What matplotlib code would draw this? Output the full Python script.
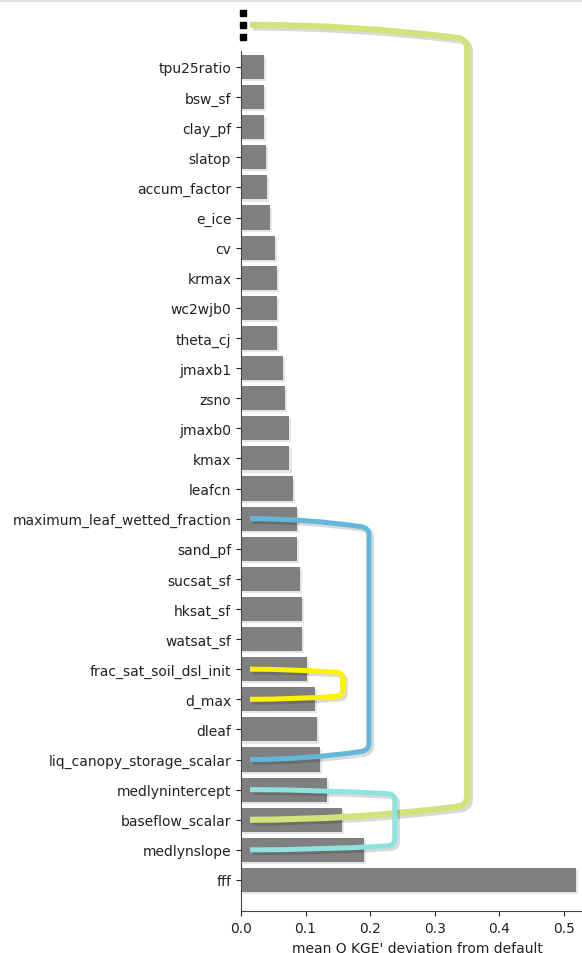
import matplotlib
matplotlib.use("Agg")
import matplotlib.pyplot as plt
import matplotlib.patheffects as pe
from matplotlib.lines import Line2D
from matplotlib.patches import PathPatch
from matplotlib.path import Path
from matplotlib.transforms import IdentityTransform
import numpy as np

# parameters, ranked by mean deviation (smallest first, top of the chart)
params = ["tpu25ratio", "bsw_sf", "clay_pf", "slatop", "accum_factor", "e_ice",
          "cv", "krmax", "wc2wjb0", "theta_cj", "jmaxb1", "zsno", "jmaxb0",
          "kmax", "leafcn", "maximum_leaf_wetted_fraction", "sand_pf",
          "sucsat_sf", "hksat_sf", "watsat_sf", "frac_sat_soil_dsl_init",
          "d_max", "dleaf", "liq_canopy_storage_scalar", "medlynintercept",
          "baseflow_scalar", "medlynslope", "fff"]
kge_dev = [0.035, 0.035, 0.036, 0.039, 0.040, 0.045,
           0.053, 0.055, 0.055, 0.056, 0.065, 0.068, 0.074,
           0.075, 0.080, 0.087, 0.087,
           0.091, 0.095, 0.095, 0.102,
           0.115, 0.118, 0.122, 0.133,
           0.156, 0.191, 0.519]

# brackets linking related parameters ("..." = the rows cut off above)
bracket_top = ["...", "maximum_leaf_wetted_fraction", "frac_sat_soil_dsl_init", "medlynintercept"]
bracket_bottom = ["baseflow_scalar", "liq_canopy_storage_scalar", "d_max", "medlynslope"]
bracket_right = [0.350, 0.198, 0.157, 0.238]
bracket_colors = ["#d3e27a", "#63b7da", "#fff200", "#8ee4dc"]
bracket_widths = [4.4, 3.6, 3.6, 3.6]
# arm sag and corner radius, in pixels
bracket_sag = [13, 8, 3, 4]
bracket_radius = [10, 8, 6, 7]

ellipsis_y = [-1.0, -1.4, -1.8]

ypos = {p: i for i, p in enumerate(params)}
ypos["..."] = ellipsis_y[1]

fig = plt.figure(figsize=(5.82, 9.54), dpi=100)
ax = fig.add_axes([241 / 582, 1 - 912 / 954, 352 / 582, 860 / 954])

ax.barh(np.arange(len(params)), kge_dev, height=0.8, color="#808080",
        path_effects=[pe.SimplePatchShadow(offset=(1.5, -1.5), shadow_rgbFace="0.6", alpha=0.25),
                      pe.Normal()])

ax.set_yticks(np.arange(len(params)))
ax.set_yticklabels(params)
ax.set_ylim(28.03, -0.53)
ax.set_xlim(0, 0.519 * 1.05)
ax.set_xticks([0.0, 0.1, 0.2, 0.3, 0.4, 0.5])
ax.set_xlabel("mean Q KGE' deviation from default", fontsize=10, color="#222222")
ax.tick_params(labelsize=10, colors="#222222")
for side in ["top", "right"]:
    ax.spines[side].set_visible(False)
for side in ["left", "bottom"]:
    ax.spines[side].set_color("#444444")

# vertical ellipsis above the first row
ax.plot([0.0036] * 3, ellipsis_y, "s", color="black", ms=3.8, clip_on=False)


def bracket_path(x0, yt, yb, xr, s, r):
    # built in display pixels (y up): sagging arms, tight rounded corners
    (X0, YT), = ax.transData.transform([(x0, yt)])
    (XR, YB), = ax.transData.transform([(xr, yb)])
    L = XR - r - X0
    k = 2 * s / L * r
    verts = [(X0, YT),
             (X0 + 0.5 * L, YT), (XR - r, YT - s),
             (XR, YT - s - k), (XR, YT - s - r),
             (XR, YB + s + r),
             (XR, YB + s + k), (XR - r, YB + s),
             (X0 + 0.5 * L, YB), (X0, YB)]
    codes = [Path.MOVETO,
             Path.CURVE3, Path.CURVE3,
             Path.CURVE3, Path.CURVE3,
             Path.LINETO,
             Path.CURVE3, Path.CURVE3,
             Path.CURVE3, Path.CURVE3]
    return Path(verts, codes)


for top, bot, xr, col, lw, s, r in zip(bracket_top, bracket_bottom, bracket_right,
                                        bracket_colors, bracket_widths,
                                        bracket_sag, bracket_radius):
    path = bracket_path(0.014, ypos[top], ypos[bot], xr, s, r)
    patch = PathPatch(path, facecolor="none", edgecolor=col, lw=lw,
                      capstyle="butt", clip_on=False, zorder=3,
                      transform=IdentityTransform(),
                      path_effects=[pe.SimpleLineShadow(offset=(2, -2), shadow_color="black", alpha=0.15),
                                    pe.Normal()])
    fig.add_artist(patch)

fig.add_artist(Line2D([0, 1], [0.999, 0.999], color="0.88", lw=2))

fig.savefig("out.png", dpi=100)
